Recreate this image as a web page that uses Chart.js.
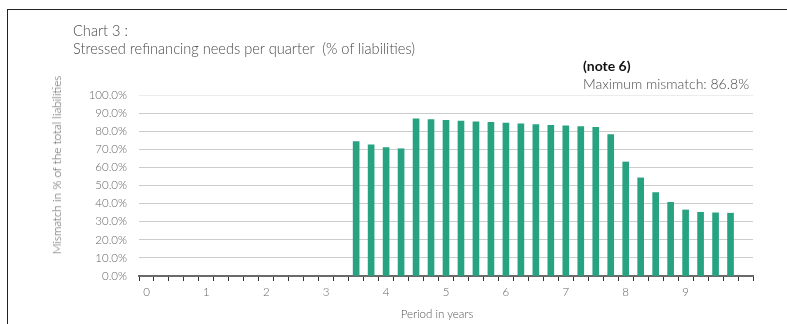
<!DOCTYPE html>
<html>
<head>
<meta charset="utf-8">
<script src="https://cdn.jsdelivr.net/npm/chart.js@4"></script>
<style>
  html, body { margin: 0; padding: 0; background: #fff; }
  body { width: 787px; height: 324px; position: relative; overflow: hidden; font-family: Lato, "Open Sans", sans-serif; }
  #frame { position: absolute; left: 7px; top: 9px; right: -5px; bottom: -5px; border-left: 1px solid #222; border-top: 1px solid #222; }
  #myChart { position: absolute; left: 0; top: 0; }
  .txt { position: absolute; white-space: nowrap; color: #555; }
  #title { left: 73px; top: 22px; font-size: 14.6px; line-height: 18px; font-weight: 300; color: #4a4a4a; }
  #note { left: 583px; top: 57px; font-size: 14px; line-height: 18px; }
  #note b { color: #111; font-weight: 700; }
  #note span { color: #4a4a4a; font-weight: 300; }
  #yTitle { left: 56px; top: 165px; font-size: 11.7px; transform: translate(-50%, -50%) rotate(-90deg); color: #555; font-weight: 300; }
  #xTitle { left: 437px; top: 313px; font-size: 11.5px; transform: translate(-50%, -50%); color: #555; font-weight: 300; }
</style>
</head>
<body>
<div id="frame"></div>
<canvas id="myChart" width="787" height="324"></canvas>
<div class="txt" id="title">Chart 3 :<br>Stressed refinancing needs per quarter&nbsp; (% of liabilities)</div>
<div class="txt" id="note"><b>(note 6)</b><br><span>Maximum mismatch: 86.8%</span></div>
<div class="txt" id="yTitle">Mismatch in % of the total liabilities</div>
<div class="txt" id="xTitle">Period in years</div>
<script>
// one category per quarter, year label on every 4th
const yearLabels = [
  "0", "", "", "", "1", "", "", "", "2", "", "", "",
  "3", "", "", "", "4", "", "", "", "5", "", "", "",
  "6", "", "", "", "7", "", "", "", "8", "", "", "",
  "9", "", "", "", "",
];

// mismatch in % of total liabilities per quarter
const mismatch = [
  null, null, null, null, null, null, null, null, null, null, null, null,
  null, null, 74.3, 72.5, 71.0, 70.3, 86.8, 86.4, 86.0, 85.6, 85.2, 84.9,
  84.5, 84.1, 83.7, 83.3, 83.0, 82.6, 82.2, 78.2, 63.0, 54.2, 46.1, 40.7,
  36.5, 35.2, 34.9, 34.7, null,
];

const yTicks = [0, 10, 20, 30, 40, 50, 60, 70, 80, 90, 100];

const tickFont = { family: "Lato, 'Open Sans', sans-serif", size: 11.5, weight: "300" };

const chartContext = document.getElementById("myChart").getContext("2d");

const chart = new Chart(chartContext, {
  type: "bar",
  data: {
    labels: yearLabels,
    datasets: [
      {
        data: mismatch,
        backgroundColor: "#27a382",
        barThickness: 6,
      },
    ],
  },
  options: {
    responsive: false,
    animation: false,
    layout: { padding: { top: 95, right: 34, bottom: 0, left: 0 } },
    plugins: {
      legend: { display: false },
      tooltip: { enabled: false },
    },
    scales: {
      x: {
        afterFit: (scale) => { scale.height = 48; },
        border: { color: "#6a6a6a", width: 2 },
        grid: {
          display: true,
          drawOnChartArea: false,
          drawTicks: true,
          tickLength: 5,
          color: "#333",
        },
        ticks: {
          autoSkip: false,
          maxRotation: 0,
          padding: 4,
          color: "#666",
          font: tickFont,
        },
      },
      y: {
        min: 0,
        max: 100,
        afterFit: (scale) => { scale.width = 139; },
        afterBuildTicks: (scale) => {
          scale.ticks = yTicks.map((v) => ({ value: v }));
        },
        border: { display: false },
        grid: {
          drawTicks: false,
          color: (ctx) => (ctx.tick && ctx.tick.value === 100 ? "#ececec" : "#cccccc"),
        },
        ticks: {
          padding: 12,
          color: "#666",
          font: tickFont,
          callback: (v) => v.toFixed(1) + "%",
        },
      },
    },
  },
});
</script>
</body>
</html>
